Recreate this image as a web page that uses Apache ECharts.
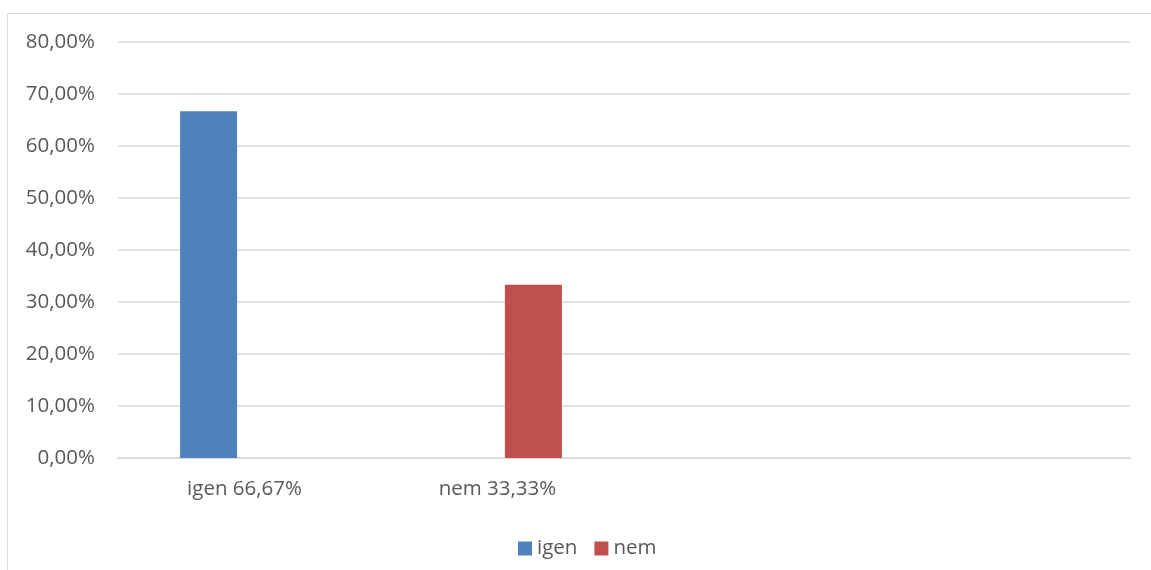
<!DOCTYPE html>
<html><head><meta charset="utf-8">
<script src="https://cdn.jsdelivr.net/npm/echarts@6/dist/echarts.min.js"></script>
<style>html,body{margin:0;padding:0;background:#fff}#c{width:1151px;height:570px}</style>
</head><body><div id="c"></div>
<script>
const categories = ['igen 66,67%', 'nem 33,33%', '', ''];
const seriesNames = ['igen', 'nem'];
const igenValues = [66.67, null, null, null];
const nemValues = [null, 33.33, null, null];
const colors = ['#4F81BD', '#C0504D'];

const chart = echarts.init(document.getElementById('c'));
const font = '"Open Sans", sans-serif';
chart.setOption({
  animation: false,
  backgroundColor: '#fff',
  graphic: [{type: 'rect', shape: {x: 7.5, y: 13.5, width: 1160, height: 580}, style: {fill: 'none', stroke: '#D9D9D9', lineWidth: 1}, silent: true}],
  grid: {left: 118, right: 21, top: 42, bottom: 112},
  legend: {
    data: seriesNames, top: 533, left: 513, itemWidth: 14, itemHeight: 14, itemGap: 17,
    icon: 'rect', textStyle: {color: '#595959', fontSize: 20.5, fontFamily: font}
  },
  xAxis: {
    type: 'category', data: categories,
    axisLine: {lineStyle: {color: '#D9D9D9', width: 1.5}},
    axisTick: {show: false},
    axisLabel: {color: '#595959', fontSize: 20.5, fontFamily: font, margin: 21, interval: 0}
  },
  yAxis: {
    type: 'value', min: 0, max: 80, interval: 10,
    axisLabel: {color: '#595959', fontSize: 20.5, fontFamily: font, margin: 23,
      formatter: v => v.toFixed(2).replace('.', ',') + '%'},
    splitLine: {lineStyle: {color: '#D9D9D9', width: 1.5}},
    axisLine: {show: false}, axisTick: {show: false}
  },
  series: [
    {name: 'igen', type: 'bar', data: igenValues, barWidth: 57, barGap: '26%', itemStyle: {color: colors[0]}},
    {name: 'nem', type: 'bar', data: nemValues, barWidth: 57, barGap: '26%', itemStyle: {color: colors[1]}}
  ]
});
</script></body></html>
